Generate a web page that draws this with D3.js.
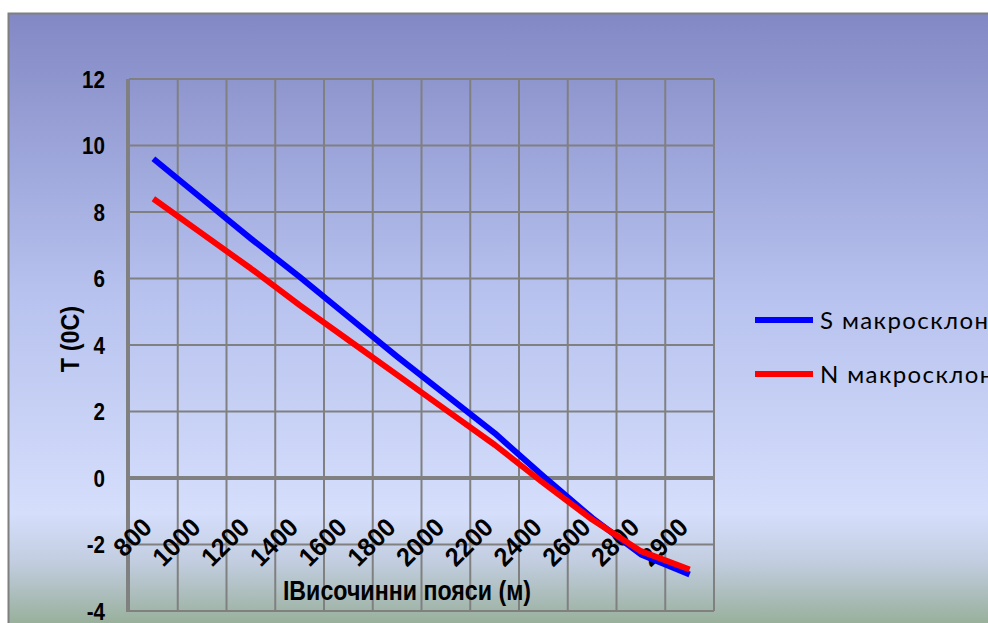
<!DOCTYPE html>
<html>
<head>
<meta charset="utf-8">
<script src="https://cdn.jsdelivr.net/npm/d3@7"></script>
<style>
  html, body { margin: 0; padding: 0; background: #ffffff; }
  svg { display: block; }
  .lab { font-family: "Liberation Sans", Arial, sans-serif; font-weight: bold; fill: #000; }
  .legend-lab { font-family: Lato, "Open Sans", sans-serif; fill: #000; letter-spacing: 1.4px; }
</style>
</head>
<body>
<svg id="chart" width="988" height="623"></svg>
<script>
// Altitude belts (m) and mean temperature (°C) on each macro-slope
const altitudes = ["800", "1000", "1200", "1400", "1600", "1800", "2000", "2200", "2400", "2600", "2800", "2900"];
const southSlope = [9.6, 8.4, 7.2, 6.05, 4.85, 3.65, 2.5, 1.35, 0.05, -1.2, -2.3, -2.9];
const northSlope = [8.4, 7.35, 6.3, 5.2, 4.15, 3.1, 2.05, 1.0, -0.15, -1.25, -2.2, -2.75];
const yTicks = [-4, -2, 0, 2, 4, 6, 8, 10, 12];
const seriesNames = ["S макросклон", "N макросклон"];
const seriesColors = ["#0000ff", "#ff0000"];

const W = 988, H = 623;
const svg = d3.select("#chart");

// chart area background gradient
const defs = svg.append("defs");
const grad = defs.append("linearGradient")
  .attr("id", "bg").attr("x1", 0).attr("y1", 0).attr("x2", 0).attr("y2", 1);
[[0, "#8288c4"], [0.45, "#b6c1ee"], [0.82, "#d5defb"], [0.9, "#c2cde0"], [1, "#99b09c"]]
  .forEach(([o, c]) => grad.append("stop").attr("offset", o).attr("stop-color", c));

svg.append("rect").attr("x", 8).attr("y", 13).attr("width", W - 8).attr("height", H - 13)
  .attr("fill", "url(#bg)");
svg.append("path").attr("d", `M8.5,${H} V13.5 H${W}`)
  .attr("fill", "none").attr("stroke", "#7f7f7f").attr("stroke-width", 2);

// plot area
const plot = { left: 129, right: 714, top: 79, bottom: 611 };

const x = d3.scaleBand().domain(altitudes).range([plot.left, plot.right]).padding(0);
const y = d3.scaleLinear().domain([-4, 12]).range([plot.bottom, plot.top]);
const cx = a => x(a) + x.bandwidth() / 2;

const grid = svg.append("g");
// vertical gridlines on category boundaries
const bounds = altitudes.map(a => x(a)).concat([x(altitudes[altitudes.length - 1]) + x.bandwidth()]);
grid.selectAll("line.v").data(bounds).join("line")
  .attr("x1", d => d).attr("x2", d => d)
  .attr("y1", plot.top).attr("y2", plot.bottom)
  .attr("stroke", "#808080").attr("stroke-width", 2);
// horizontal gridlines
grid.selectAll("line.h").data(yTicks).join("line")
  .attr("x1", plot.left).attr("x2", plot.right)
  .attr("y1", d => y(d)).attr("y2", d => y(d))
  .attr("stroke", "#808080").attr("stroke-width", d => d === 0 ? 4 : 2);
// value axis line
grid.append("line")
  .attr("x1", plot.left - 1).attr("x2", plot.left - 1)
  .attr("y1", plot.top).attr("y2", plot.bottom + 1)
  .attr("stroke", "#808080").attr("stroke-width", 4);

// y tick labels (condensed bold)
svg.append("g").selectAll("text").data(yTicks).join("text")
  .attr("class", "lab")
  .attr("font-size", 24)
  .attr("text-anchor", "end")
  .attr("dy", "0.36em")
  .attr("transform", d => `translate(105,${y(d)}) scale(0.86,1)`)
  .text(d => String(d));

// x tick labels, rotated
svg.append("g").selectAll("text").data(altitudes).join("text")
  .attr("class", "lab")
  .attr("font-size", 26)
  .attr("text-anchor", "end")
  .attr("transform", d => `translate(${cx(d)},529) rotate(-45) scale(0.95,1)`)
  .text(d => d);

// axis titles
svg.append("text").attr("class", "lab").attr("font-size", 26)
  .attr("text-anchor", "middle")
  .attr("transform", "translate(79,339) rotate(-90) scale(0.9,1)")
  .text("T (0C)");
svg.append("text").attr("class", "lab").attr("font-size", 27)
  .attr("text-anchor", "middle")
  .attr("transform", "translate(407,600) scale(0.86,1)")
  .text("IВисочинни пояси (м)");

// temperature lines
const line = d3.line()
  .x((d, i) => cx(altitudes[i]))
  .y(d => y(d));
[southSlope, northSlope].forEach((vals, k) => {
  svg.append("path").datum(vals)
    .attr("d", line)
    .attr("fill", "none")
    .attr("stroke", seriesColors[k])
    .attr("stroke-width", 6)
    .attr("stroke-linejoin", "round");
});

// legend
const leg = svg.append("g");
seriesNames.forEach((name, k) => {
  const ly = 320 + k * 54;
  leg.append("line").attr("x1", 755).attr("x2", 813).attr("y1", ly).attr("y2", ly)
    .attr("stroke", seriesColors[k]).attr("stroke-width", 6);
  leg.append("text").attr("class", "legend-lab").attr("font-size", 24)
    .attr("x", 820).attr("y", ly + 9).text(name);
});
</script>
</body>
</html>
